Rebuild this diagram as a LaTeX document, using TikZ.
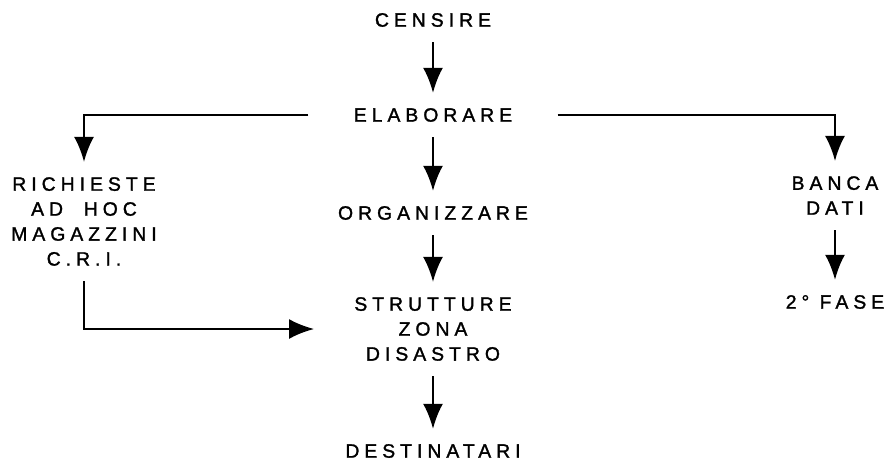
\documentclass[tikz,border=0pt]{standalone}
\usepackage{fontspec}
\newfontfamily\diafont{Liberation Sans}[LetterSpace=26,FakeBold=1.5]
\usetikzlibrary{arrows.meta}
\tikzset{lbl/.style={font=\diafont\fontsize{11}{14.2}\selectfont, align=center,
         inner xsep=0.3cm, inner ysep=0.3cm},
         arr/.style={line width=1.3pt, -{Latex[length=0.5cm,width=0.4cm]}}}

\begin{document}
\begin{tikzpicture}[x=0.02cm,y=-0.02cm]
  \useasboundingbox (0,0) rectangle (887,461);

  \node[lbl] (censire) at (433,20) {CENSIRE};
  \node[lbl] (elaborare) at (433,115) {ELABORARE};
  \node[lbl] (organizzare) at (433,213) {ORGANIZZARE};
  \node[lbl] (strutture) at (433,329) {STRUTTURE\\ZONA\\DISASTRO};
  \node[lbl] (destinatari) at (433,451) {DESTINATARI};
  \node[lbl] (richieste) at (84,221.5) {RICHIESTE\\AD~~HOC\\MAGAZZINI\\C.R.I.};
  \node[lbl] (banca) at (835,195.5) {BANCA\\DATI};
  \node[lbl] (fase) at (835,302) {2° FASE};

  \draw[arr] (censire) -- (elaborare);
  \draw[arr] (elaborare) -- (organizzare);
  \draw[arr] (organizzare) -- (strutture);
  \draw[arr] (strutture) -- (destinatari);
  \draw[arr] (banca) -- (fase);
  \draw[arr] ([xshift=-0.6cm]elaborare.west) -| (richieste);
  \draw[arr] ([xshift=0.6cm]elaborare.east) -| (banca);
  \draw[arr] (richieste) |- ([xshift=-0.5cm]strutture.west);
\end{tikzpicture}
\end{document}
